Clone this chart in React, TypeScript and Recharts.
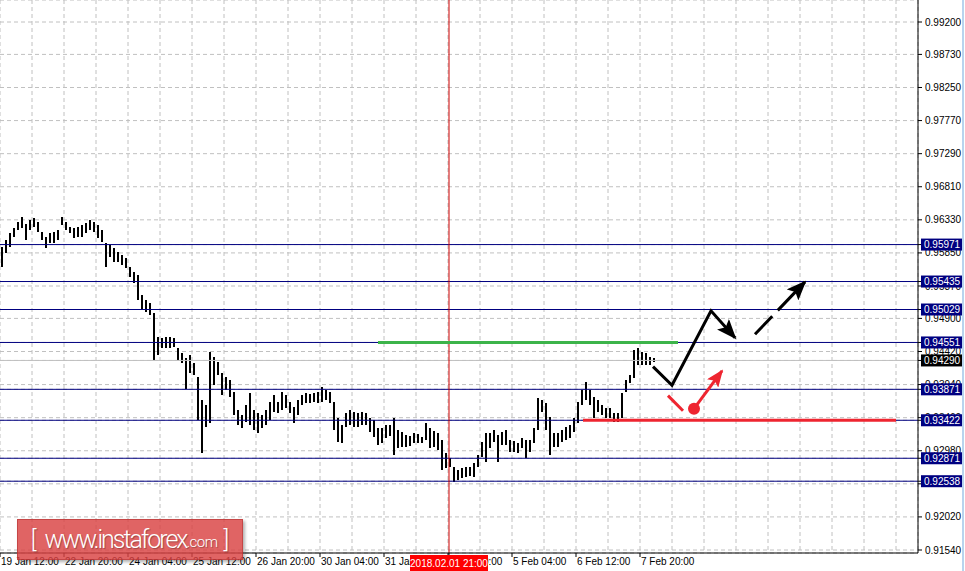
import React from "react"
import { ComposedChart, Bar, Line, XAxis, YAxis, CartesianGrid, ReferenceLine, ReferenceDot } from "recharts"

// H1 bars, read every 2 hours (high / low)
const barHigh = [
  0.9594, 0.9604, 0.9614, 0.9621, 0.963, 0.9637, 0.9627, 0.9633, 0.9636, 0.963,
  0.9615, 0.9608, 0.9614, 0.9615, 0.9618, 0.9637, 0.963, 0.9623, 0.9621, 0.9623,
  0.9625, 0.9628, 0.9633, 0.963, 0.9625, 0.9618, 0.9599, 0.9596, 0.9592, 0.9586,
  0.9582, 0.9578, 0.9565, 0.9557, 0.9553, 0.9524, 0.9517, 0.9512, 0.9498, 0.9463,
  0.9462, 0.9463, 0.9463, 0.9462, 0.9447, 0.944, 0.9433, 0.9437, 0.9425, 0.9405,
  0.9372, 0.9364, 0.9441, 0.9434, 0.9427, 0.9411, 0.9405, 0.9401, 0.9383, 0.9357,
  0.935, 0.9364, 0.9382, 0.9357, 0.9353, 0.935, 0.9357, 0.9369, 0.9379, 0.9369,
  0.9383, 0.9379, 0.9369, 0.9362, 0.9372, 0.9379, 0.9382, 0.938, 0.9382, 0.9383,
  0.9391, 0.9386, 0.9383, 0.9369, 0.9346, 0.9335, 0.9353, 0.9357, 0.9354, 0.9353,
  0.9354, 0.9353, 0.9346, 0.9343, 0.9331, 0.9331, 0.9335, 0.9335, 0.9346, 0.9328,
  0.9325, 0.9321, 0.932, 0.9324, 0.9322, 0.9318, 0.9338, 0.9331, 0.9327, 0.9324,
  0.9314, 0.9295, 0.9288, 0.9275, 0.927, 0.9273, 0.9275, 0.9275, 0.928, 0.9292,
  0.9311, 0.9324, 0.9324, 0.9328, 0.9321, 0.9325, 0.9328, 0.9314, 0.9312, 0.9309,
  0.9317, 0.9314, 0.9314, 0.9331, 0.9375, 0.9372, 0.9367, 0.9347, 0.9324, 0.9324,
  0.9328, 0.9333, 0.9335, 0.9346, 0.9369, 0.9386, 0.9398, 0.9386, 0.9376, 0.9372,
  0.9364, 0.936, 0.936, 0.9353, 0.9353, 0.9382, 0.9401, 0.9408, 0.9444, 0.9447,
  0.9441, 0.944, 0.9434, 0.9433,
]
const barLow = [
  0.9565, 0.9585, 0.9594, 0.9608, 0.9618, 0.9621, 0.9604, 0.9618, 0.9623, 0.9615,
  0.9604, 0.9592, 0.9599, 0.9599, 0.9604, 0.9625, 0.9618, 0.9614, 0.9607, 0.9608,
  0.9608, 0.9614, 0.9618, 0.9615, 0.9607, 0.9601, 0.9565, 0.9579, 0.9572, 0.9572,
  0.9567, 0.9563, 0.955, 0.9541, 0.9517, 0.9502, 0.9499, 0.9495, 0.943, 0.9437,
  0.9447, 0.9447, 0.9447, 0.9449, 0.943, 0.9425, 0.9388, 0.9411, 0.9408, 0.9343,
  0.9295, 0.9333, 0.9338, 0.9393, 0.9408, 0.9379, 0.9386, 0.9376, 0.935, 0.9335,
  0.9331, 0.934, 0.9335, 0.9328, 0.9324, 0.9331, 0.9335, 0.9343, 0.9354, 0.9353,
  0.9357, 0.936, 0.9353, 0.9338, 0.935, 0.9364, 0.9367, 0.9367, 0.9369, 0.9367,
  0.9369, 0.9372, 0.9367, 0.9328, 0.9311, 0.9309, 0.9333, 0.9335, 0.9333, 0.9333,
  0.9335, 0.9335, 0.9325, 0.9318, 0.9306, 0.9309, 0.9317, 0.932, 0.9292, 0.9302,
  0.9304, 0.9304, 0.9305, 0.9309, 0.9309, 0.9309, 0.9314, 0.9302, 0.9304, 0.9299,
  0.927, 0.9273, 0.9275, 0.9253, 0.9256, 0.9259, 0.926, 0.9262, 0.926, 0.9275,
  0.9289, 0.9282, 0.9302, 0.9311, 0.9282, 0.9306, 0.9306, 0.9296, 0.9296, 0.9295,
  0.9302, 0.9288, 0.9296, 0.9309, 0.9328, 0.9354, 0.9328, 0.9292, 0.9304, 0.9304,
  0.9311, 0.9314, 0.9317, 0.9325, 0.9338, 0.9364, 0.9372, 0.9364, 0.9346, 0.9354,
  0.935, 0.9346, 0.9346, 0.934, 0.934, 0.9346, 0.9383, 0.9396, 0.9404, 0.9422,
  0.9422, 0.9422, 0.9422, 0.9427,
]

// x axis: hours from the left edge of the window
const timeTicks = [0, 32, 64, 96, 128, 160, 192, 224, 256, 288, 320]
const timeLabels = [
  "19 Jan 12:00", "22 Jan 20:00", "24 Jan 04:00", "25 Jan 12:00", "26 Jan 20:00",
  "30 Jan 04:00", "31 Jan 12:00", "1 Feb 20:00", "5 Feb 04:00", "6 Feb 12:00", "7 Feb 20:00",
]
const priceTicks = [
  0.992, 0.9873, 0.9825, 0.9777, 0.9729, 0.9681, 0.9633, 0.9585, 0.9537,
  0.949, 0.9442, 0.9394, 0.9346, 0.9298, 0.925, 0.9202, 0.9154,
]

const levels = [0.95971, 0.95435, 0.95029, 0.94551, 0.93871, 0.93422, 0.92871, 0.92538]
const bidPrice = 0.9429
const crossHour = 224.5
const crossLabel = "2018.02.01 21:00"

// drawings
const resistance = [{ t: 189, v: 0.94551 }, { t: 339, v: 0.94551 }]
const support = [{ t: 291.5, v: 0.93422 }, { t: 448, v: 0.93422 }]
const mainPath = [
  { t: 326.5, v: 0.942 },
  { t: 336, v: 0.9393 },
  { t: 355.5, v: 0.9501 },
  { t: 367.5, v: 0.9462 },
]
const altPath = [{ t: 377.5, v: 0.9467 }, { t: 402.5, v: 0.9543 }]
const redStroke = [{ t: 334, v: 0.9378 }, { t: 341.5, v: 0.9356 }]
const redArrow = [{ t: 347, v: 0.9359 }, { t: 361, v: 0.9414 }]

const FONT = "'Liberation Sans', Arial, sans-serif"
const NAVY = "#000080"

const bars = barHigh.map((h, i) => ({ t: 2 * i + 1, range: [barLow[i], h] }))
const gridHours = Array.from({ length: 28 }, (_, i) => (i + 1) * 16)
// tags come last so they are drawn over the plain tick labels
const yTicks = [...priceTicks, bidPrice, ...levels]
const xTicks = [...timeTicks, crossHour]

const PriceTick = ({ x, y, payload }: any) => {
  const v = payload.value
  const isLevel = levels.includes(v)
  if (isLevel || v === bidPrice) {
    return (
      <g>
        <rect x={x - 3} y={y - 6} width={41} height={12} fill={isLevel ? NAVY : "#000"} />
        <text x={x} y={y} dy="0.35em" fontSize={10} fill="#fff" fontFamily={FONT}>
          {v.toFixed(5)}
        </text>
      </g>
    )
  }
  return (
    <text x={x + 1} y={y} dy="0.35em" textAnchor="start" fontSize={10} fill="#000" fontFamily={FONT}>
      {v.toFixed(5)}
    </text>
  )
}

const TimeTick = ({ x, y, payload }: any) => {
  if (payload.value === crossHour) {
    return (
      <g>
        <rect x={x - 39} y={y - 4} width={78} height={16} fill="#ff0000" />
        <text x={x} y={y + 4} dy="0.35em" textAnchor="middle" fontSize={10} fill="#fff" fontFamily={FONT}>
          {crossLabel}
        </text>
      </g>
    )
  }
  return (
    <text x={x + 1} y={y - 1} dy="0.71em" textAnchor="start" fontSize={10} fill="#000" fontFamily={FONT}>
      {timeLabels[timeTicks.indexOf(payload.value)]}
    </text>
  )
}

const HighLowBar = ({ x, y, width, height }: any) => (
  <rect x={Math.round(x + width / 2 - 1)} y={y} width={2} height={Math.max(height, 1)} fill="#000" shapeRendering="crispEdges" />
)

export default function App() {
  return (
    <div style={{ position: "absolute", left: 0, top: 0, width: 965, height: 571, background: "#fff", overflow: "hidden" }}>
      <ComposedChart width={965} height={571} data={bars} margin={{ top: 0, right: 0, bottom: 0, left: 0 }}>
        <defs>
          <marker id="headBlack" viewBox="0 0 20 16" refX="18" refY="8" markerWidth="20" markerHeight="16" markerUnits="userSpaceOnUse" orient="auto">
            <path d="M0,0 L20,8 L0,16 L4,8 z" fill="#000" />
          </marker>
          <marker id="headRed" viewBox="0 0 20 16" refX="18" refY="8" markerWidth="18" markerHeight="14" markerUnits="userSpaceOnUse" orient="auto">
            <path d="M0,0 L20,8 L0,16 L4,8 z" fill="#ee2530" />
          </marker>
        </defs>
        <CartesianGrid xAxisId="grid" stroke="#c0c0c0" strokeDasharray="4 3" />
        <XAxis xAxisId="grid" type="number" dataKey="t" domain={[0, 459]} ticks={gridHours} allowDataOverflow hide />
        <XAxis
          type="number"
          dataKey="t"
          domain={[0, 459]}
          allowDataOverflow
          ticks={xTicks}
          interval={0}
          height={18}
          tickSize={4}
          axisLine={{ stroke: "#000" }}
          tickLine={{ stroke: "#000" }}
          tick={<TimeTick />}
        />
        <YAxis
          orientation="right"
          width={47}
          domain={[0.914965, 0.995192]}
          allowDataOverflow
          ticks={yTicks}
          interval={0}
          tickSize={4}
          axisLine={{ stroke: "#000" }}
          tickLine={{ stroke: "#000" }}
          tick={<PriceTick />}
        />
        <ReferenceLine y={bidPrice} stroke="#c0c0c0" />
        {levels.map((lv) => (
          <ReferenceLine key={lv} y={lv} stroke={NAVY} />
        ))}
        <ReferenceLine x={crossHour} stroke="#cc0000" />
        <Bar dataKey="range" barSize={2} fill="#000" shape={<HighLowBar />} isAnimationActive={false} />
        <Line data={resistance} dataKey="v" type="linear" stroke="#3cb44a" strokeWidth={3} dot={false} activeDot={false} isAnimationActive={false} />
        <Line data={support} dataKey="v" type="linear" stroke="#ee2530" strokeWidth={3} dot={false} activeDot={false} isAnimationActive={false} />
        <Line data={mainPath} dataKey="v" type="linear" stroke="#000" strokeWidth={3} dot={false} activeDot={false} markerEnd="url(#headBlack)" isAnimationActive={false} />
        <Line data={altPath} dataKey="v" type="linear" stroke="#000" strokeWidth={3} strokeDasharray="25 8 80" dot={false} activeDot={false} markerEnd="url(#headBlack)" isAnimationActive={false} />
        <Line data={redStroke} dataKey="v" type="linear" stroke="#ee2530" strokeWidth={3} dot={false} activeDot={false} isAnimationActive={false} />
        <Line data={redArrow} dataKey="v" type="linear" stroke="#ee2530" strokeWidth={3} dot={false} activeDot={false} markerEnd="url(#headRed)" isAnimationActive={false} />
        <ReferenceDot x={347} y={0.9359} r={6} fill="#ee2530" stroke="none" />
      </ComposedChart>
      <div
        style={{
          position: "absolute",
          left: 17,
          top: 519,
          width: 226,
          height: 41,
          background: "rgba(217,66,66,0.82)",
          border: "1px solid rgba(170,40,40,0.5)",
          boxShadow: "2px 2px 3px rgba(0,0,0,0.3)",
          boxSizing: "border-box",
          display: "flex",
          alignItems: "center",
          justifyContent: "center",
          color: "#fff",
          fontFamily: "Roboto, sans-serif",
          fontWeight: 300,
          textShadow: "1px 1px 1px rgba(0,0,0,0.3)",
          whiteSpace: "nowrap",
        }}
      >
        <span style={{ fontSize: 24, marginRight: 8 }}>[</span>
        <span style={{ fontSize: 25, letterSpacing: -2 }}>www.instaforex</span>
        <span style={{ fontSize: 15, letterSpacing: -0.5, marginTop: 5 }}>.com</span>
        <span style={{ fontSize: 24, marginLeft: 6 }}>]</span>
      </div>
      <div style={{ position: "absolute", left: 962, top: 0, width: 2, height: 571, background: "#b8d4ee" }} />
    </div>
  )
}
